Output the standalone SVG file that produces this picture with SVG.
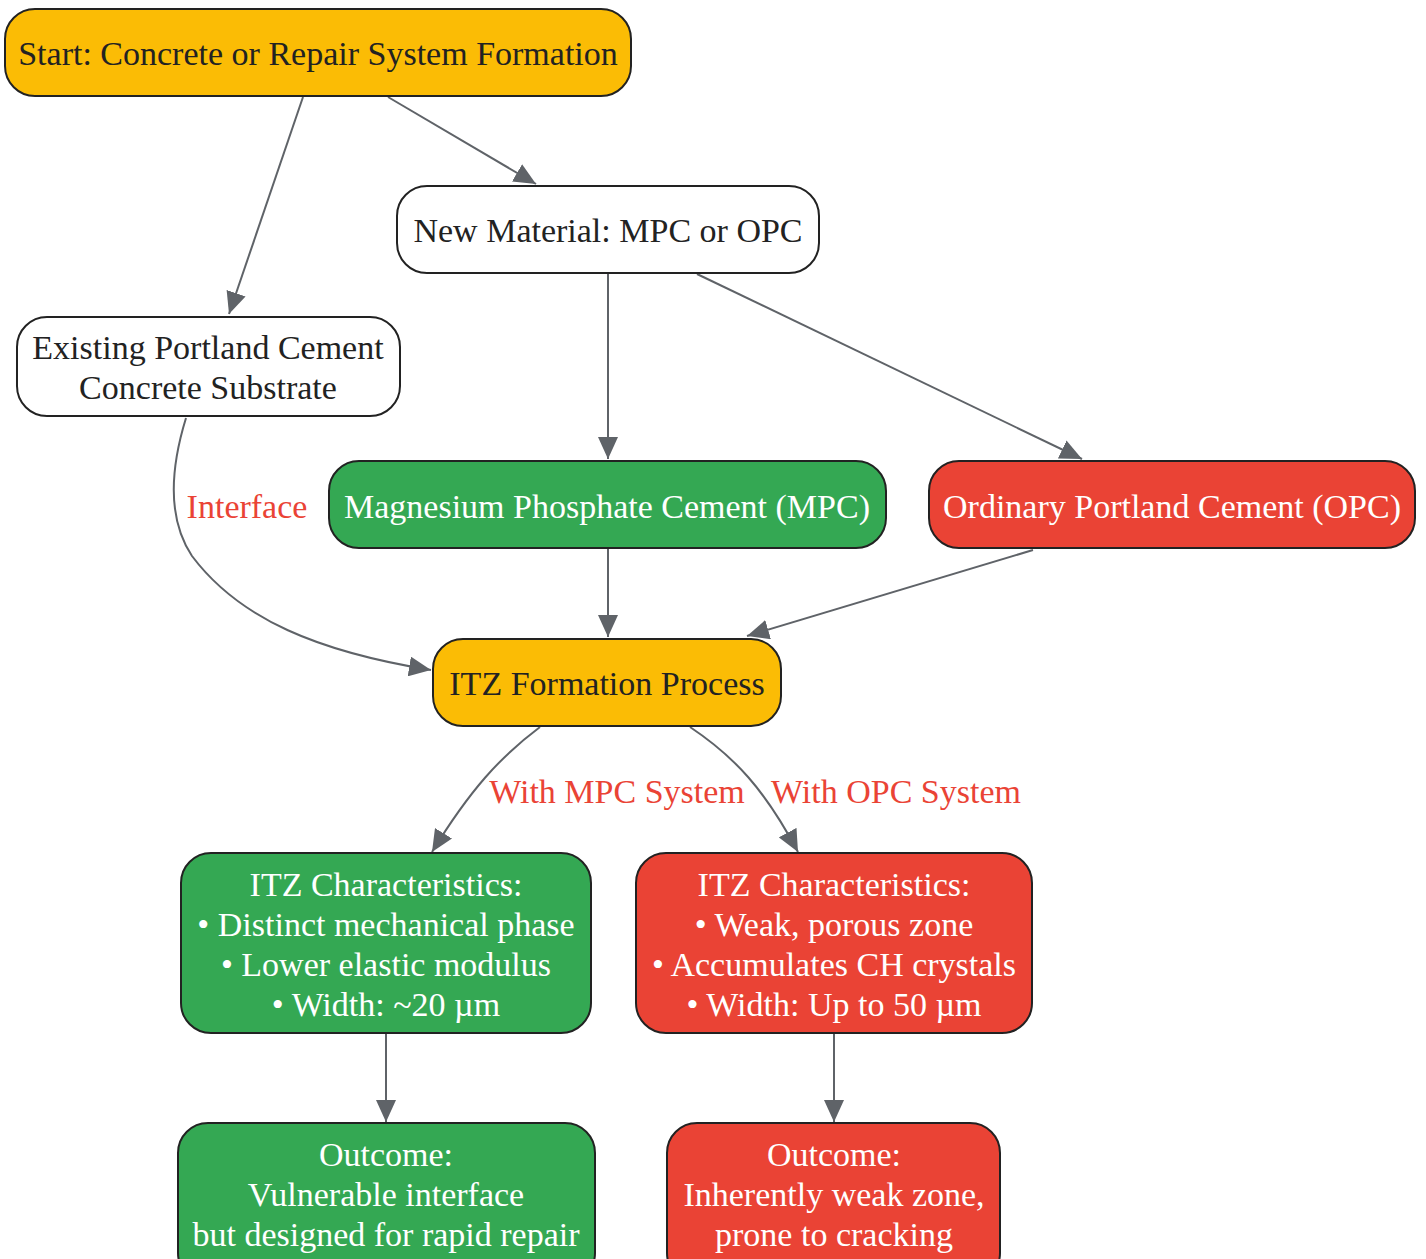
<svg xmlns="http://www.w3.org/2000/svg" width="1426" height="1259" viewBox="0 0 1426 1259">
<style>
.n rect{stroke:#222;stroke-width:2}
.y rect{fill:#FBBC05}
.w rect{fill:#fff}
.g rect{fill:#34A853}
.r rect{fill:#EA4335}
text{font-family:"Liberation Serif","Times New Roman",serif;font-size:34px;text-anchor:middle}
.y text,.w text{fill:#222}
.g text,.r text{fill:#fff}
.e path{fill:none;stroke:#5f6368;stroke-width:2;marker-end:url(#ah)}
.lbl{fill:#EA4335}
</style>
<defs>
<marker id="ah" markerUnits="userSpaceOnUse" markerWidth="24" markerHeight="20" refX="22" refY="10" orient="auto">
<path d="M0,0 L22,10 L0,20 z" fill="#5f6368"/>
</marker>
</defs>
<rect width="1426" height="1259" fill="#fff"/>
<g class="e" id="connectors">
<path d="M303,97 L229,314"/>
<path d="M388,97 L536,184"/>
<path d="M608,274 L608,459"/>
<path d="M697,274 L1082,459"/>
<path d="M186,418 C170,470 168,520 192,556 C240,620 320,652 431,670"/>
<path d="M608,549 L608,637"/>
<path d="M1033,550 L747,636"/>
<path d="M540,727 C500,757 470,790 432,852"/>
<path d="M690,727 C735,757 765,790 798,852"/>
<path d="M386,1034 L386,1122"/>
<path d="M834,1034 L834,1122"/>
<text class="lbl" x="247" y="518">Interface</text>
<text class="lbl" x="617" y="803">With MPC System</text>
<text class="lbl" x="896" y="803">With OPC System</text>
</g>
<g id="start" class="n y"><rect x="5" y="9" width="626" height="87" rx="30"/><text x="318" y="65">Start: Concrete or Repair System Formation</text></g>
<g id="newmat" class="n w"><rect x="397" y="186" width="422" height="87" rx="30"/><text x="608" y="242">New Material: MPC or OPC</text></g>
<g id="existing" class="n w"><rect x="17" y="317" width="383" height="99" rx="30"/><text x="208" y="359">Existing Portland Cement</text><text x="208" y="399">Concrete Substrate</text></g>
<g id="mpc" class="n g"><rect x="329" y="461" width="557" height="87" rx="30"/><text x="607" y="518">Magnesium Phosphate Cement (MPC)</text></g>
<g id="opc" class="n r"><rect x="929" y="461" width="486" height="87" rx="30"/><text x="1172" y="518">Ordinary Portland Cement (OPC)</text></g>
<g id="itz" class="n y"><rect x="433" y="639" width="348" height="87" rx="30"/><text x="607" y="695">ITZ Formation Process</text></g>
<g id="itzmpc" class="n g"><rect x="181" y="853" width="410" height="180" rx="30"/><text x="386" y="896">ITZ Characteristics:</text><text x="386" y="936">• Distinct mechanical phase</text><text x="386" y="976">• Lower elastic modulus</text><text x="386" y="1016">• Width: ~20 µm</text></g>
<g id="itzopc" class="n r"><rect x="636" y="853" width="396" height="180" rx="30"/><text x="834" y="896">ITZ Characteristics:</text><text x="834" y="936">• Weak, porous zone</text><text x="834" y="976">• Accumulates CH crystals</text><text x="834" y="1016">• Width: Up to 50 µm</text></g>
<g id="outmpc" class="n g"><rect x="178" y="1123" width="417" height="160" rx="30"/><text x="386" y="1166">Outcome:</text><text x="386" y="1206">Vulnerable interface</text><text x="386" y="1246">but designed for rapid repair</text></g>
<g id="outopc" class="n r"><rect x="667" y="1123" width="333" height="160" rx="30"/><text x="834" y="1166">Outcome:</text><text x="834" y="1206">Inherently weak zone,</text><text x="834" y="1246">prone to cracking</text></g>
</svg>
